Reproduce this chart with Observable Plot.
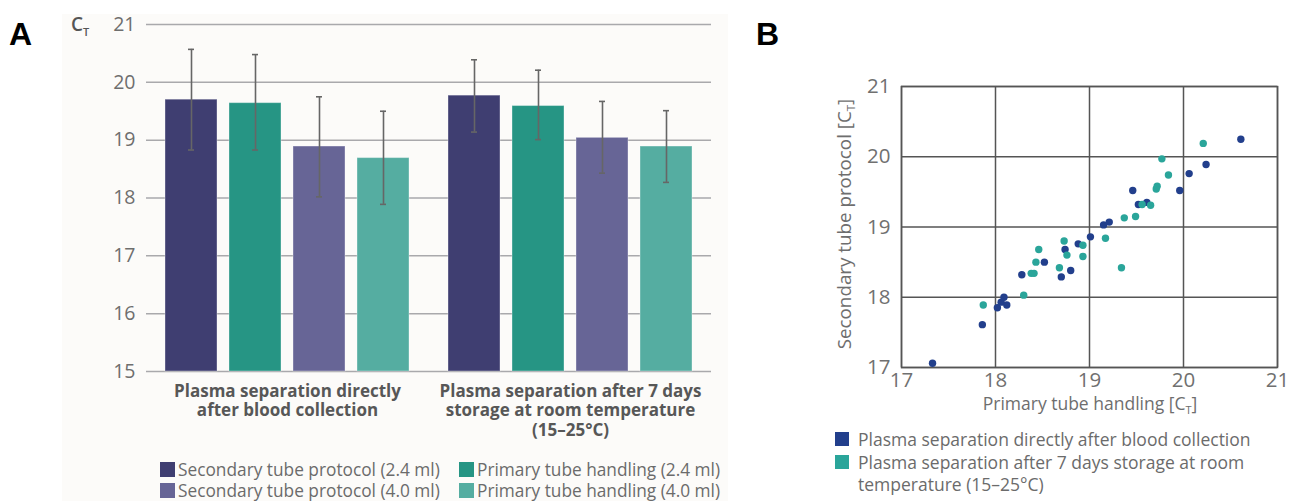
<!DOCTYPE html>
<html>
<head>
<meta charset="utf-8">
<script src="https://cdn.jsdelivr.net/npm/d3@7"></script>
<script src="https://cdn.jsdelivr.net/npm/@observablehq/plot@0.6"></script>
<style>
  body { margin: 0; background: #ffffff; font-family: "Open Sans", sans-serif; }
  #root { position: relative; width: 1298px; height: 501px; overflow: hidden; background: #fff; }
  .abs { position: absolute; }
  #bgA { left: 62px; top: 14px; width: 666px; height: 487px; background: #fcfbf9; }
  .leg { position: absolute; display: flex; align-items: center; height: 15px; font-size: 17.3px; color: #6b6b6b; white-space: nowrap; }
  .sw { display: inline-block; width: 15px; height: 15px; margin-right: 3px; flex: none; }
  #legB { left: 835px; top: 428px; width: 420px; font-size: 17.5px; color: #6b6b6b; line-height: 22.5px; }
  #legB .row { position: relative; padding-left: 23px; }
  #legB .sw { position: absolute; left: 0; top: 4px; width: 14px; height: 14px; }
</style>
</head>
<body>
<div id="root">
  <div id="bgA" class="abs"></div>
  <div id="gridA" class="abs" style="left:0;top:0"></div>
  <div id="chartA" class="abs" style="left:0;top:0"></div>
  <div id="chartB" class="abs" style="left:800px;top:0"></div>
  <div id="legA"></div>
  <div id="legB" class="abs"></div>
  <svg id="labels" class="abs" style="left:0;top:0" width="1298" height="501"></svg>
</div>
<script>
// ---------- Panel A data ----------
const groups = ["direct", "stored"];
const groupLabels = ["Plasma separation directly\nafter blood collection", "Plasma separation after 7 days\nstorage at room temperature\n(15–25°C)"];
const series = ["Secondary tube protocol (2.4 ml)", "Primary tube handling (2.4 ml)", "Secondary tube protocol (4.0 ml)", "Primary tube handling (4.0 ml)"];
const colorsA = ["#3f3e71", "#269584", "#676596", "#55ada1"];
const meansDirect = [19.70, 19.64, 18.89, 18.69];
const lowDirect   = [18.83, 18.83, 18.02, 17.89];
const highDirect  = [20.57, 20.48, 19.75, 19.50];
const meansStored = [19.77, 19.59, 19.04, 18.89];
const lowStored   = [19.14, 19.01, 18.43, 18.27];
const highStored  = [20.39, 20.21, 19.67, 19.51];
const yTicksA = [15, 16, 17, 18, 19, 20, 21];

// ---------- Panel B data ----------
const directX = [17.33, 17.86, 18.02, 18.06, 18.09, 18.12, 18.28, 18.52, 18.70, 18.74, 18.80, 18.88, 19.01, 19.15, 19.21, 19.46, 19.52, 19.61, 19.96, 20.06, 20.24, 20.61];
const directY = [17.06, 17.61, 17.85, 17.93, 18.00, 17.89, 18.32, 18.50, 18.29, 18.68, 18.38, 18.76, 18.86, 19.03, 19.07, 19.52, 19.32, 19.35, 19.52, 19.76, 19.89, 20.25];
const storedX = [17.87, 18.30, 18.38, 18.41, 18.43, 18.46, 18.68, 18.73, 18.76, 18.93, 18.93, 19.17, 19.34, 19.37, 19.49, 19.56, 19.65, 19.71, 19.72, 19.77, 19.84, 20.21];
const storedY = [17.89, 18.03, 18.34, 18.34, 18.50, 18.68, 18.42, 18.80, 18.60, 18.74, 18.58, 18.84, 18.42, 19.13, 19.15, 19.32, 19.31, 19.54, 19.58, 19.97, 19.74, 20.19];
const seriesB = ["Plasma separation directly after blood collection", "Plasma separation after 7 days storage at room temperature (15–25°C)"];
const colorsB = ["#223f8c", "#2aa59a"];
const ticksB = [17, 18, 19, 20, 21];

const intFmt = d => String(d);

// ---------- Build Panel A ----------
const dimsA = {width: 740, height: 440, marginLeft: 146, marginRight: 29, marginTop: 24, marginBottom: 69};
const barData = [];
series.forEach((s, i) => {
  barData.push({group: groups[0], series: s, mean: meansDirect[i], lo: lowDirect[i], hi: highDirect[i]});
  barData.push({group: groups[1], series: s, mean: meansStored[i], lo: lowStored[i], hi: highStored[i]});
});

// underlay: gridlines + y axis
const gridA = Plot.plot({
  ...dimsA,
  style: {background: "transparent", fontFamily: "Open Sans, sans-serif", color: "#666"},
  y: {domain: [15, 21], axis: null},
  marks: [
    Plot.ruleY(yTicksA, {stroke: "#a9a9ac", strokeWidth: 1.5}),
    Plot.axisY(yTicksA, {tickSize: 0, tickPadding: 11, fontSize: 19.5, fill: "#6e6e6e", label: null, tickFormat: intFmt})
  ]
});
document.getElementById("gridA").appendChild(gridA);

const errStyle = {fx: "group", x: "series", stroke: "#666", strokeWidth: 1.6};
const chartA = Plot.plot({
  ...dimsA,
  style: {background: "transparent", fontFamily: "Open Sans, sans-serif", color: "#666"},
  fx: {domain: groups, paddingInner: 0.138, paddingOuter: 0.067, label: null, axis: null},
  x: {domain: series, paddingInner: 0.1875, paddingOuter: 0, axis: null},
  y: {domain: [15, 21], axis: null},
  color: {domain: series, range: colorsA},
  marks: [
    Plot.barY(barData, {fx: "group", x: "series", y1: 15, y2: "mean", fill: "series", stroke: "#ffffff", strokeOpacity: 0.35, strokeWidth: 1}),
    Plot.ruleX(barData, {...errStyle, y1: "lo", y2: "hi"}),
    Plot.tickY(barData, {...errStyle, y: "lo", insetLeft: 23, insetRight: 23}),
    Plot.tickY(barData, {...errStyle, y: "hi", insetLeft: 23, insetRight: 23}),
    Plot.axisFx({anchor: "bottom", tickSize: 0, tickPadding: 11, fontSize: 17, fontWeight: "bold", fill: "#575757", lineHeight: 1.16, label: null,
      tickFormat: g => groupLabels[groups.indexOf(g)]})
  ]
});
document.getElementById("chartA").appendChild(chartA);

// Legend A
const legA = document.getElementById("legA");
const legPos = [[160, 462], [459, 462], [160, 483], [459, 483]];
series.forEach((s, k) => {
  const d = document.createElement("div");
  d.className = "leg";
  d.style.left = legPos[k][0] + "px";
  d.style.top = legPos[k][1] + "px";
  d.innerHTML = `<span class="sw" style="background:${colorsA[k]}"></span><span>${s}</span>`;
  legA.appendChild(d);
});

// ---------- Build Panel B ----------
const ptsDirect = directX.map((x, i) => ({x, y: directY[i]}));
const ptsStored = storedX.map((x, i) => ({x, y: storedY[i]}));
const chartB = Plot.plot({
  width: 498, height: 430,
  marginLeft: 101, marginRight: 21, marginTop: 86, marginBottom: 63,
  style: {background: "transparent", fontFamily: "Open Sans, sans-serif", color: "#6e6e6e"},
  x: {domain: [17, 21], axis: null},
  y: {domain: [17, 21], axis: null},
  marks: [
    Plot.gridX(ticksB, {stroke: "#555", strokeOpacity: 1, strokeWidth: 1.5}),
    Plot.gridY(ticksB, {stroke: "#555", strokeOpacity: 1, strokeWidth: 1.5}),
    Plot.frame({stroke: "#555", strokeWidth: 1.5}),
    Plot.axisX(ticksB, {tickSize: 0, tickPadding: 5, fontSize: 20.5, fill: "#707070", label: null, tickFormat: intFmt}),
    Plot.axisY(ticksB, {tickSize: 0, tickPadding: 11, fontSize: 20.5, fill: "#707070", label: null, tickFormat: intFmt}),
    Plot.dot(ptsDirect, {x: "x", y: "y", r: 3.7, fill: colorsB[0]}),
    Plot.dot(ptsStored, {x: "x", y: "y", r: 3.7, fill: colorsB[1]})
  ]
});
document.getElementById("chartB").appendChild(chartB);

// Axis titles for B (with subscript)
const svgB = d3.select(chartB);
const xt = svgB.append("text").attr("x", 290).attr("y", 410).attr("text-anchor", "middle")
  .attr("font-size", 17.5).attr("fill", "#6e6e6e").attr("font-family", "Open Sans, sans-serif");
xt.append("tspan").text("Primary tube handling [C");
xt.append("tspan").attr("font-size", 11).attr("dy", 4).text("T");
xt.append("tspan").attr("dy", -4).text("]");
const yt = svgB.append("text").attr("transform", "translate(51,224) rotate(-90)").attr("text-anchor", "middle")
  .attr("font-size", 18.8).attr("fill", "#6e6e6e").attr("font-family", "Open Sans, sans-serif");
yt.append("tspan").text("Secondary tube protocol [C");
yt.append("tspan").attr("font-size", 11.5).attr("dy", 4).text("T");
yt.append("tspan").attr("dy", -4).text("]");

// Legend B
const legB = document.getElementById("legB");
seriesB.forEach((s, i) => {
  const r = document.createElement("div");
  r.className = "row";
  r.innerHTML = `<span class="sw" style="background:${colorsB[i]}"></span>${s}`;
  legB.appendChild(r);
});

// Panel letters and C_T label
const lab = d3.select("#labels");
lab.append("text").attr("x", 9).attr("y", 45).attr("font-family", "Liberation Sans, Arial, sans-serif").attr("font-weight", "bold").attr("font-size", 32).attr("fill", "#000").text("A");
lab.append("text").attr("x", 756).attr("y", 45).attr("font-family", "Liberation Sans, Arial, sans-serif").attr("font-weight", "bold").attr("font-size", 32).attr("fill", "#000").text("B");
const ct = lab.append("text").attr("x", 71).attr("y", 31).attr("font-family", "Open Sans, sans-serif").attr("font-weight", 600).attr("font-size", 19).attr("fill", "#555");
ct.append("tspan").text("C");
ct.append("tspan").attr("font-size", 11).attr("dy", 5).text("T");
</script>
</body>
</html>
